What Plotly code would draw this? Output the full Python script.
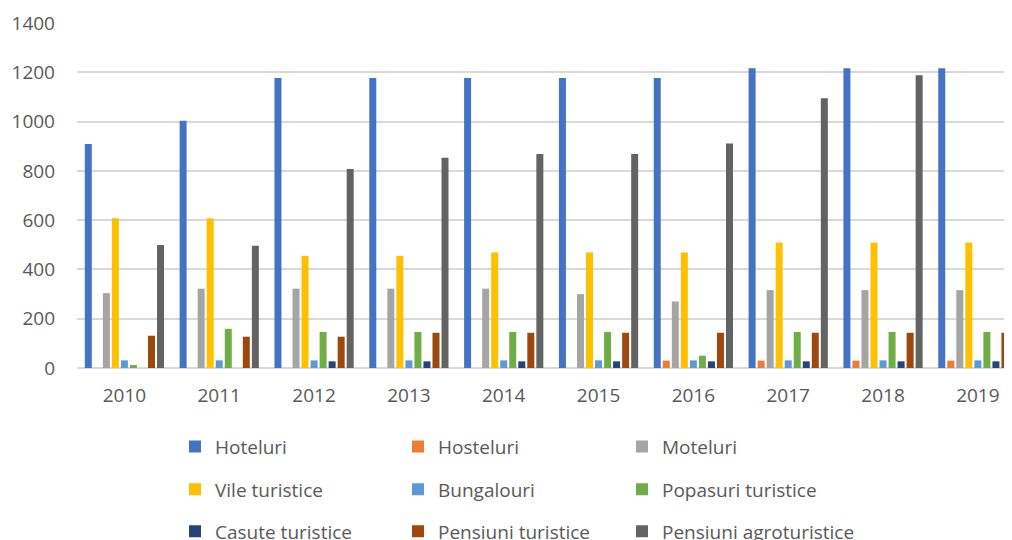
import plotly.graph_objects as go

years = ["2010", "2011", "2012", "2013", "2014", "2015", "2016", "2017", "2018", "2019"]

hoteluri = [909, 1003, 1177, 1177, 1177, 1177, 1177, 1216, 1216, 1216]
hosteluri = [0, 0, 0, 0, 0, 0, 30, 30, 30, 30]
moteluri = [304, 322, 322, 322, 322, 300, 270, 316, 316, 316]
vile_turistice = [608, 608, 455, 455, 469, 469, 469, 509, 509, 509]
bungalouri = [31, 31, 31, 31, 31, 31, 31, 31, 31, 31]
popasuri_turistice = [12, 159, 146, 146, 146, 146, 50, 146, 146, 146]
casute_turistice = [0, 0, 27, 27, 27, 27, 27, 27, 27, 27]
pensiuni_turistice = [131, 127, 127, 143, 143, 143, 143, 143, 143, 143]
pensiuni_agroturistice = [499, 496, 808, 853, 868, 868, 911, 1095, 1188, 1188]

series_names = ["Hoteluri", "Hosteluri", "Moteluri", "Vile turistice", "Bungalouri",
                "Popasuri turistice", "Casute turistice", "Pensiuni turistice",
                "Pensiuni agroturistice"]
series_values = [hoteluri, hosteluri, moteluri, vile_turistice, bungalouri,
                 popasuri_turistice, casute_turistice, pensiuni_turistice,
                 pensiuni_agroturistice]
series_colors = ["#4472C4", "#ED7D31", "#A5A5A5", "#FFC000", "#5B9BD5",
                 "#70AD47", "#264478", "#9E480E", "#636363"]

FONT = "Open Sans"
TXT = "#595959"

# the page body adds an 8px offset; lay out in figure coordinates accordingly
OFF = 8
W, H = 1012 - OFF, 540 - OFF

top, bottom = 22.7 - OFF, 368.3 - OFF
ph = bottom - top
left = 77 - OFF
pw = W - left


def ypos(px):
    return (bottom - (px - OFF)) / ph


def xpos(px):
    return ((px - OFF) - left) / pw


# legend grid (screen pixels): text start of each column, centre of each row
col_x = [175, 398, 622]
row_y = [447, 490, 532]

fig = go.Figure()
layout_legends = {}
for i, (name, vals, color) in enumerate(zip(series_names, series_values, series_colors)):
    key = "legend" if i == 0 else f"legend{i + 1}"
    fig.add_trace(go.Bar(
        x=list(range(len(years))), y=vals, name=name,
        marker=dict(color=color, line=dict(width=0)),
        legend=key, showlegend=True,
    ))
    r, c = divmod(i, 3)
    layout_legends[key] = dict(
        orientation="h", xanchor="left", yanchor="middle",
        x=xpos(col_x[c]), y=ypos(row_y[r]),
        font=dict(family=FONT, size=19, color=TXT),
        bgcolor="rgba(0,0,0,0)", visible=True,
    )

fig.update_layout(
    width=W, height=H, showlegend=True,
    margin=dict(l=left, r=0, t=top, b=H - bottom, pad=0, autoexpand=False),
    paper_bgcolor="white", plot_bgcolor="white",
    barmode="group", bargap=0.143, bargroupgap=0.225,
    font=dict(family=FONT, size=19, color=TXT),
    xaxis=dict(
        range=[-0.5, 9.36], tickmode="array",
        tickvals=list(range(len(years))), ticktext=years,
        showgrid=False, zeroline=False, showline=False,
        ticks="", ticklabelstandoff=14,
        tickfont=dict(family=FONT, size=19, color=TXT),
    ),
    yaxis=dict(
        range=[0, 1400], tickvals=[0, 200, 400, 600, 800, 1000, 1200, 1400],
        showgrid=True, gridcolor="#D9D9D9", gridwidth=1.5,
        zeroline=True, zerolinecolor="#D9D9D9", zerolinewidth=1.5,
        showline=False, ticks="", ticklabelstandoff=21,
        tickfont=dict(family=FONT, size=19, color=TXT),
    ),
    **layout_legends,
)

fig.write_html("out.html")
